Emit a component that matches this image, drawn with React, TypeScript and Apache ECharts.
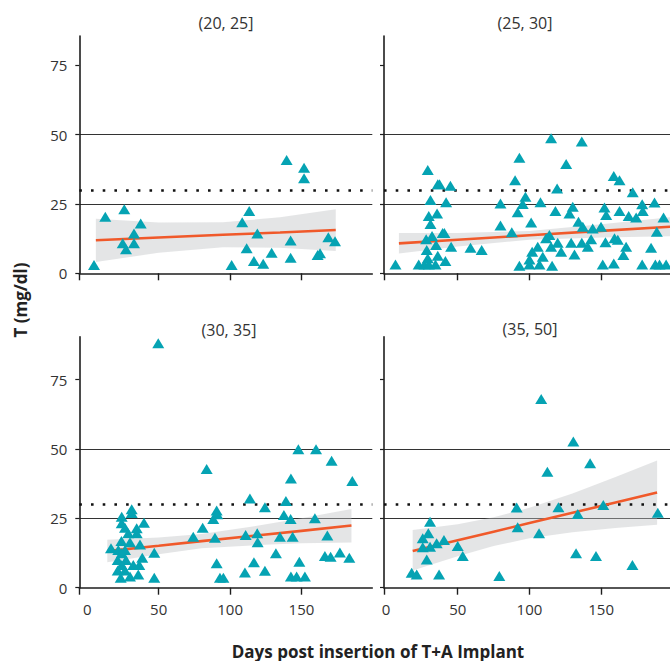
import React, { useEffect, useRef } from "react";
import * as echarts from "echarts";

// ---------- data ----------
const panelTitles = ["(20, 25]", "(25, 30]", "(30, 35]", "(35, 50]"];
const yTickValues = [0, 25, 50, 75];
const xLabelValues = [0, 50, 100, 150];
const thresholdValue = 30;
const xAxisTitle = "Days post insertion of T+A Implant";
const yAxisTitle = "T (mg/dl)";

const pts2025 = [
  [4.7, 3.0], [12.6, 20.4], [25.9, 23.1], [24.8, 10.8], [27.1, 8.7], [32.7, 14.4],
  [32.7, 10.8], [37.4, 18.0], [101.1, 3.0], [108.5, 18.4], [113.4, 22.5], [111.6, 9.0],
  [116.7, 4.4], [119.1, 14.4], [123.2, 3.4], [129.1, 7.4], [139.6, 40.9], [142.4, 11.8],
  [142.4, 5.6], [151.8, 38.1], [151.8, 34.3], [161.3, 6.6], [163.0, 7.2], [168.8, 13.0],
  [173.5, 11.6],
];

const pts2530 = [
  [6.6, 3.2], [29.1, 37.3], [36.1, 32.1], [37.3, 32.1], [44.9, 31.6], [31.0, 26.4],
  [41.9, 25.6], [29.8, 20.7], [35.6, 21.6], [31.0, 17.8], [28.0, 12.3], [32.1, 13.5],
  [39.5, 14.5], [40.7, 14.5], [28.4, 8.4], [34.9, 10.2], [45.4, 9.6], [29.1, 5.4],
  [36.1, 6.3], [22.8, 3.2], [26.8, 3.2], [29.9, 3.2], [34.5, 3.2], [41.4, 4.4],
  [58.9, 9.2], [66.7, 8.4], [79.8, 25.2], [79.8, 17.2], [87.7, 14.8], [90.0, 33.6],
  [93.0, 41.7], [97.2, 27.6], [95.3, 25.0], [91.8, 22.0], [101.2, 18.3], [107.7, 25.6],
  [93.0, 2.7], [100.0, 5.0], [101.9, 7.8], [105.8, 9.6], [100.0, 3.2], [107.0, 3.2],
  [109.3, 6.0], [111.6, 12.6], [115.1, 9.6], [115.1, 48.7], [115.8, 2.7], [113.9, 13.8],
  [118.1, 22.5], [119.3, 30.6], [119.7, 11.0], [122.1, 7.8], [125.6, 39.4], [127.9, 21.6],
  [130.2, 24.0], [129.1, 11.0], [131.4, 6.8], [134.2, 18.6], [136.5, 47.5], [136.5, 11.0],
  [137.2, 16.8], [140.7, 9.6], [144.1, 16.2], [143.0, 12.3], [149.9, 16.8], [152.3, 23.7],
  [153.5, 21.0], [153.0, 11.2], [151.1, 3.2], [158.8, 35.1], [162.8, 33.6], [158.8, 3.5],
  [159.3, 12.6], [161.6, 12.1], [162.8, 22.5], [167.4, 9.6], [165.5, 6.6], [172.0, 29.2],
  [169.2, 20.7], [174.4, 20.1], [178.6, 24.9], [179.0, 22.5], [178.6, 3.2], [184.8, 9.2],
  [187.2, 25.5], [188.8, 15.0], [187.8, 3.2], [190.7, 3.2], [193.5, 20.1], [195.3, 3.2],
];

const pts3035 = [
  [49.7, 88.1], [16.6, 14.2], [24.1, 25.6], [31.1, 28.3], [31.1, 26.9], [24.1, 23.2],
  [26.4, 21.6], [34.6, 21.4], [34.6, 19.6], [39.7, 23.4], [29.9, 16.4], [23.9, 16.8],
  [28.7, 19.6], [36.9, 15.6], [21.7, 13.6], [26.4, 13.6], [24.1, 12.4], [21.3, 10.0],
  [27.1, 10.0], [38.5, 10.8], [24.1, 8.2], [32.2, 8.2], [36.4, 8.2], [21.3, 6.2],
  [26.4, 6.2], [23.4, 3.6], [29.9, 4.0], [35.7, 4.8], [46.9, 12.6], [46.9, 3.6],
  [74.2, 18.4], [80.8, 21.6], [83.6, 42.8], [88.2, 24.8], [90.6, 27.8], [91.0, 26.5],
  [89.4, 18.0], [90.6, 8.8], [92.9, 3.6], [95.3, 3.6], [110.4, 5.5], [110.9, 19.0],
  [113.9, 32.2], [119.0, 19.6], [119.3, 16.4], [116.7, 9.2], [124.4, 29.0], [124.4, 6.1],
  [132.1, 12.4], [134.9, 18.4], [139.1, 31.3], [137.7, 26.2], [142.4, 24.8], [142.6, 39.4],
  [143.8, 18.4], [142.6, 4.0], [146.6, 4.0], [148.5, 9.4], [147.8, 49.9], [152.4, 4.0],
  [160.2, 49.9], [159.4, 25.0], [168.1, 18.8], [166.4, 11.4], [170.4, 11.2], [171.1, 45.8],
  [176.9, 12.7], [183.5, 10.8], [185.6, 38.5],
];

const pts3550 = [
  [108.2, 68.0], [130.6, 52.7], [142.3, 44.9], [112.5, 41.8], [91.1, 28.9], [120.2, 29.0],
  [151.5, 29.8], [133.7, 26.6], [189.5, 27.0], [30.7, 23.8], [91.8, 21.8], [106.7, 19.6],
  [29.5, 19.6], [25.6, 17.8], [35.3, 16.0], [40.4, 17.2], [25.6, 14.6], [30.7, 14.8],
  [50.0, 15.0], [53.5, 11.4], [28.4, 10.2], [132.5, 12.4], [146.4, 11.4], [171.8, 8.2],
  [17.9, 5.4], [21.4, 4.8], [37.0, 4.8], [79.0, 4.2],
];

// fitted line and confidence band
const fitX2025 = [6, 50, 95, 135, 174];
const fitMid2025 = [11.9, 12.9, 13.9, 14.7, 15.6];
const fitLo2025 = [4.1, 7.4, 9.4, 9.2, 8.0];
const fitHi2025 = [19.7, 18.3, 18.4, 20.2, 23.1];

const fitX2530 = [9, 50, 100, 150, 198];
const fitMid2530 = [10.8, 12.1, 13.7, 15.3, 16.8];
const fitLo2530 = [7.1, 9.7, 12.1, 12.9, 13.4];
const fitHi2530 = [14.5, 14.5, 15.3, 17.7, 20.2];

const fitX3035 = [14, 50, 80, 120, 150, 185];
const fitMid3035 = [13.2, 15.1, 16.8, 18.9, 20.5, 22.4];
const fitLo3035 = [9.2, 12.1, 14.2, 15.4, 16.0, 16.3];
const fitHi3035 = [17.3, 18.1, 19.4, 22.4, 25.0, 28.4];

const fitX3550 = [18.6, 50, 75, 100, 130, 160, 189];
const fitMid3550 = [13.2, 17.1, 20.2, 23.3, 27.0, 30.7, 34.3];
const fitLo3550 = [6.2, 11.3, 15.0, 17.8, 20.0, 21.5, 22.7];
const fitHi3550 = [20.8, 22.9, 25.4, 28.8, 34.0, 39.9, 45.9];

// ---------- layout / style ----------
const FONT = "'Open Sans', Roboto, 'DejaVu Sans', sans-serif";
const TEAL = "#05A3B3";
const ORANGE = "#F0592A";
const BAND = "rgba(190,192,196,0.42)";
const AXIS = "#1e1e1e";
const LABEL = "#333";

const panels = [
  { pts: pts2025, fx: fitX2025, mid: fitMid2025, lo: fitLo2025, hi: fitHi2025,
    grid: { left: 79.3, top: 36, width: 293, height: 237.3 }, xMin: -5.6, xMax: 199.6, yMax: 85.6,
    leftCol: true, bottomRow: false, titlePos: [226, 23] },
  { pts: pts2530, fx: fitX2530, mid: fitMid2530, lo: fitLo2530, hi: fitHi2530,
    grid: { left: 384, top: 36, width: 286, height: 237.3 }, xMin: -1.4, xMax: 198, yMax: 85.6,
    leftCol: false, bottomRow: false, titlePos: [525, 23] },
  { pts: pts3035, fx: fitX3035, mid: fitMid3035, lo: fitLo3035, hi: fitHi3035,
    grid: { left: 79.3, top: 336.7, width: 293, height: 251 }, xMin: -5.6, xMax: 199.6, yMax: 90.5,
    leftCol: true, bottomRow: true, titlePos: [229, 330] },
  { pts: pts3550, fx: fitX3550, mid: fitMid3550, lo: fitLo3550, hi: fitHi3550,
    grid: { left: 384, top: 336.7, width: 286, height: 251 }, xMin: -1.4, xMax: 198, yMax: 90.5,
    leftCol: false, bottomRow: true, titlePos: [530, 329] },
];

function buildOption() {
  const grid: any[] = [];
  const xAxis: any[] = [];
  const yAxis: any[] = [];
  const series: any[] = [];
  const graphic: any[] = [];

  panels.forEach((p, i) => {
    grid.push({ ...p.grid, containLabel: false });
    xAxis.push({
      type: "value",
      gridIndex: i,
      min: p.xMin,
      max: p.xMax,
      axisLine: { show: true, onZero: false, lineStyle: { color: AXIS, width: 1.6 } },
      axisTick: {
        show: true,
        length: 7,
        customValues: [p.xMin, ...xLabelValues.slice(1)],
        lineStyle: { color: AXIS, width: 1.4 },
      },
      axisLabel: {
        show: p.bottomRow,
        customValues: xLabelValues,
        margin: 14,
        fontSize: 15,
        fontWeight: 400,
        color: LABEL,
        fontFamily: FONT,
      },
      splitLine: { show: false },
    });
    yAxis.push({
      type: "value",
      gridIndex: i,
      min: 0,
      max: p.yMax,
      interval: 25,
      axisLine: { show: true, onZero: false, lineStyle: { color: AXIS, width: 1.6 } },
      axisTick: {
        show: true,
        length: 4,
        customValues: yTickValues,
        lineStyle: { color: AXIS, width: 1.2 },
      },
      axisLabel: {
        show: p.leftCol,
        customValues: yTickValues,
        margin: 12,
        fontSize: 15,
        fontWeight: 400,
        color: LABEL,
        fontFamily: FONT,
      },
      splitLine: {
        show: true,
        showMinLine: false,
        showMaxLine: false,
        lineStyle: { color: "#333", width: 1.2 },
      },
    });

    // confidence band as one polygon through the axes' scales
    const bandData = p.fx.map((x, k) => [x, p.lo[k], p.hi[k]]);
    series.push({
      type: "custom",
      xAxisIndex: i,
      yAxisIndex: i,
      data: bandData,
      encode: { x: 0, y: [1, 2] },
      silent: true,
      z: 1,
      renderItem: (params: any, api: any) => {
        if (params.dataIndex !== 0) return null;
        const upper = bandData.map((d) => api.coord([d[0], d[2]]));
        const lower = bandData.map((d) => api.coord([d[0], d[1]])).reverse();
        return {
          type: "polygon",
          shape: { points: upper.concat(lower) },
          style: { fill: BAND, stroke: "none" },
        };
      },
    });
    series.push({
      type: "line",
      xAxisIndex: i,
      yAxisIndex: i,
      data: p.fx.map((x, k) => [x, p.mid[k]]),
      symbol: "none",
      lineStyle: { color: ORANGE, width: 2.6 },
      silent: true,
      z: 3,
    });
    series.push({
      type: "scatter",
      xAxisIndex: i,
      yAxisIndex: i,
      data: p.pts,
      symbol: "triangle",
      symbolSize: [12, 10],
      itemStyle: { color: TEAL, opacity: 1 },
      silent: true,
      z: 4,
      markLine: {
        silent: true,
        symbol: ["none", "none"],
        label: { show: false },
        lineStyle: { color: "#111", width: 2.6, type: [2.6, 9.1], opacity: 1 },
        data: [{ yAxis: thresholdValue }],
        z: 2,
      },
    });

    graphic.push({
      type: "text",
      x: p.titlePos[0],
      y: p.titlePos[1],
      style: {
        text: panelTitles[i],
        fill: LABEL,
        font: `400 16px ${FONT}`,
        textAlign: "center",
        textVerticalAlign: "middle",
      },
    });
  });

  graphic.push({
    type: "text",
    x: 378,
    y: 651,
    style: {
      text: xAxisTitle,
      fill: "#222",
      font: `bold 17px ${FONT}`,
      textAlign: "center",
      textVerticalAlign: "middle",
    },
  });
  graphic.push({
    type: "text",
    x: 20,
    y: 300,
    rotation: Math.PI / 2,
    style: {
      text: yAxisTitle,
      fill: "#222",
      font: `bold 17px ${FONT}`,
      textAlign: "center",
      textVerticalAlign: "middle",
    },
  });

  return {
    animation: false,
    backgroundColor: "#ffffff",
    grid,
    xAxis,
    yAxis,
    series,
    graphic,
  };
}

export default function App() {
  const ref = useRef<HTMLDivElement | null>(null);
  useEffect(() => {
    if (!ref.current) return;
    const chart = echarts.init(ref.current, undefined, { renderer: "svg" });
    chart.setOption(buildOption() as any);
    return () => chart.dispose();
  }, []);
  return (
    <div
      ref={ref}
      style={{ position: "absolute", left: 0, top: 0, width: 670, height: 661, background: "#fff" }}
    />
  );
}
